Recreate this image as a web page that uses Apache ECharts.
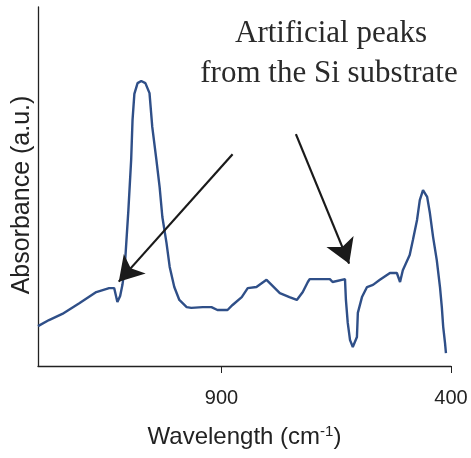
<!DOCTYPE html>
<html>
<head>
<meta charset="utf-8">
<script src="https://cdn.jsdelivr.net/npm/echarts@6/dist/echarts.min.js"></script>
<style>
html,body{margin:0;padding:0;background:#fff;}
#chart{width:471px;height:458px;}
</style>
</head>
<body>
<div id="chart"></div>
<script>
// Wavenumber (cm-1) and absorbance (a.u., arbitrary 0-100 scale)
var wavenumbers = [1300,1276,1247,1210,1173,1145,1134,1127,1121,1116,1114,1110,1103,1097,1094,1090,1083,1075,1066,1057,1051,1042,1035,1029,1020,1013,1003,992,976,966,941,922,909,887,876,856,843,824,802,791,773,752,736,723,712,708,664,658,631,629,625,620,614,605,603,594,583,570,555,533,518,511,505,490,483,474,468,461,452,446,439,431,424,420,417,413,411];
var absorbance = [11.1,12.8,14.5,17.5,20.6,21.7,21.7,17.8,19.5,22.6,24.5,29.5,43.5,57.4,68.5,75.8,78.8,79.4,78.8,76.0,66.6,57.4,49.9,41.5,34.3,27.6,22.0,18.4,16.4,16.2,16.4,16.4,15.6,15.6,17.0,19.2,21.7,22.0,24.0,22.6,20.3,19.2,18.4,20.6,23.4,24.2,24.2,23.4,24.2,18.4,12.0,7.2,5.3,8.1,14.8,19.2,22.0,22.6,24.0,25.9,25.9,23.4,26.7,30.9,35.1,40.7,46.2,49.0,47.1,42.6,35.9,29.5,22.0,16.4,10.9,6.4,3.6];
var tickValues = [900, 400];
var annotationLines = ['Artificial peaks', 'from the Si substrate'];
// arrows: [wavenumber, absorbance] of tail and tip
var arrowTails = [[876, 59], [738, 64.6]];
var arrowTips = [[1124, 23.5], [622, 28.5]];

var seriesData = wavenumbers.map(function (w, i) { return [w, absorbance[i]]; });
var arrowData = arrowTails.map(function (t, i) {
  return [{ coord: t }, { coord: arrowTips[i] }];
});

var chart = echarts.init(document.getElementById('chart'), null, { renderer: 'canvas' });
chart.setOption({
  animation: false,
  backgroundColor: '#ffffff',
  grid: { left: 38, right: 20, top: 7, bottom: 92, containLabel: false },
  xAxis: {
    type: 'value',
    min: 400,
    max: 1300,
    inverse: true,
    name: 'Wavelength (cm{sup|-1})',
    nameLocation: 'middle',
    nameGap: 58,
    nameTextStyle: {
      fontFamily: 'Liberation Sans',
      fontSize: 24,
      color: '#222',
      rich: {
        sup: { fontFamily: 'Liberation Sans', fontSize: 15, color: '#222', verticalAlign: 'top', padding: [0, 0, 12, 0] }
      }
    },
    axisLine: { show: true, lineStyle: { color: '#222', width: 1.3 } },
    axisTick: { show: true, length: 7, inside: false, customValues: tickValues, lineStyle: { color: '#222', width: 1 } },
    axisLabel: { customValues: tickValues, margin: 22, fontFamily: 'Liberation Sans', fontSize: 20, color: '#222' },
    splitLine: { show: false }
  },
  yAxis: {
    type: 'value',
    min: 0,
    max: 100,
    name: 'Absorbance (a.u.)',
    nameLocation: 'middle',
    nameRotate: 90,
    nameGap: 3,
    nameTextStyle: { fontFamily: 'Liberation Sans', fontSize: 25, color: '#222', padding: [0, 17, 0, 0] },
    axisLine: { show: true, lineStyle: { color: '#222', width: 1.3 } },
    axisTick: { show: false },
    axisLabel: { show: false },
    splitLine: { show: false }
  },
  graphic: [
    { type: 'text', x: 331, y: 34, silent: true,
      style: { text: annotationLines[0], fontFamily: 'Liberation Serif', fontSize: 31, fill: '#2a2a2a', align: 'center', verticalAlign: 'middle' } },
    { type: 'text', x: 329, y: 74, silent: true,
      style: { text: annotationLines[1], fontFamily: 'Liberation Serif', fontSize: 31, fill: '#2a2a2a', align: 'center', verticalAlign: 'middle' } }
  ],
  series: [{
    type: 'line',
    data: seriesData,
    showSymbol: false,
    symbol: 'none',
    smooth: false,
    lineStyle: { color: '#2f4f88', width: 2.4 },
    silent: true,
    markLine: {
      silent: true,
      symbol: ['none', 'arrow'],
      symbolSize: [22, 24],
      label: { show: false },
      emphasis: { disabled: true },
      lineStyle: { color: '#1a1a1a', width: 2.2, type: 'solid' },
      data: arrowData
    }
  }]
});
</script>
</body>
</html>
